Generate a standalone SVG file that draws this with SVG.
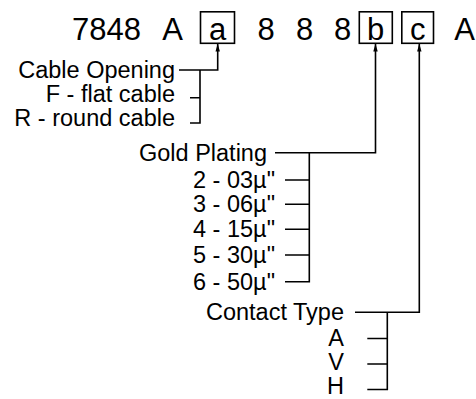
<svg xmlns="http://www.w3.org/2000/svg" width="476" height="399" viewBox="0 0 476 399">
<style>
text{font-family:"Liberation Sans",Arial,sans-serif;fill:#000}
.t{font-size:31px;text-anchor:middle}
.l{font-size:23.5px;text-anchor:end}
.box{fill:none;stroke:#000;stroke-width:1.6}
.ln{fill:none;stroke:#000;stroke-width:1.6}
</style>
<defs>
<marker id="ah" markerWidth="8" markerHeight="6" refX="8" refY="3" orient="auto" markerUnits="userSpaceOnUse">
<path d="M0,0.8 L8,3 L0,5.2 Z" fill="#000"/>
</marker>
</defs>
<rect width="476" height="399" fill="#fff"/>
<g id="code">
<text class="t" x="72" y="39.5" style="text-anchor:start">7848</text>
<text class="t" x="172.5" y="39.5">A</text>
<rect class="box" x="200.5" y="11.8" width="34" height="31.5"/>
<text class="t" x="217.5" y="39.5">a</text>
<text class="t" x="266" y="39.5">8</text>
<text class="t" x="304.5" y="39.5">8</text>
<text class="t" x="342.5" y="39.5">8</text>
<rect class="box" x="359.3" y="11.8" width="33" height="31.5"/>
<text class="t" x="375.5" y="39.5">b</text>
<rect class="box" x="401.8" y="11.8" width="31.7" height="31.5"/>
<text class="t" x="417.7" y="39.5">c</text>
<text class="t" x="464.5" y="39.5">A</text>
</g>
<g id="cable-opening">
<text class="l" x="175" y="78">Cable Opening</text>
<text class="l" x="175" y="102">F - flat cable</text>
<text class="l" x="175" y="126">R - round cable</text>
</g>
<g id="gold-plating">
<text class="l" x="267" y="160.5">Gold Plating</text>
<text class="l" x="275" y="188">2 - 03µ"</text>
<text class="l" x="275" y="212.3">3 - 06µ"</text>
<text class="l" x="275" y="237.3">4 - 15µ"</text>
<text class="l" x="275" y="263">5 - 30µ"</text>
<text class="l" x="275" y="289.5">6 - 50µ"</text>
</g>
<g id="contact-type">
<text class="l" x="344" y="320.3">Contact Type</text>
<text class="l" x="344" y="345.5">A</text>
<text class="l" x="344" y="370">V</text>
<text class="l" x="344" y="394">H</text>
</g>
<g id="connectors">
<path class="ln" d="M179,70 H217.7 V43.5" marker-end="url(#ah)"/>
<path class="ln" d="M200,70 V123 H190 M190,97.7 H200"/>
<path class="ln" d="M275,152.7 H375.5 V43.5" marker-end="url(#ah)"/>
<path class="ln" d="M309.3,152.7 V281.7 H285 M285,180 H309.3 M285,204.3 H309.3 M285,229.3 H309.3 M285,255 H309.3"/>
<path class="ln" d="M355,312.3 H419.3 V43.5" marker-end="url(#ah)"/>
<path class="ln" d="M387.3,312.3 V389.5 H367.3 M367.3,338.5 H387.3 M367.3,364 H387.3"/>
</g>
</svg>
